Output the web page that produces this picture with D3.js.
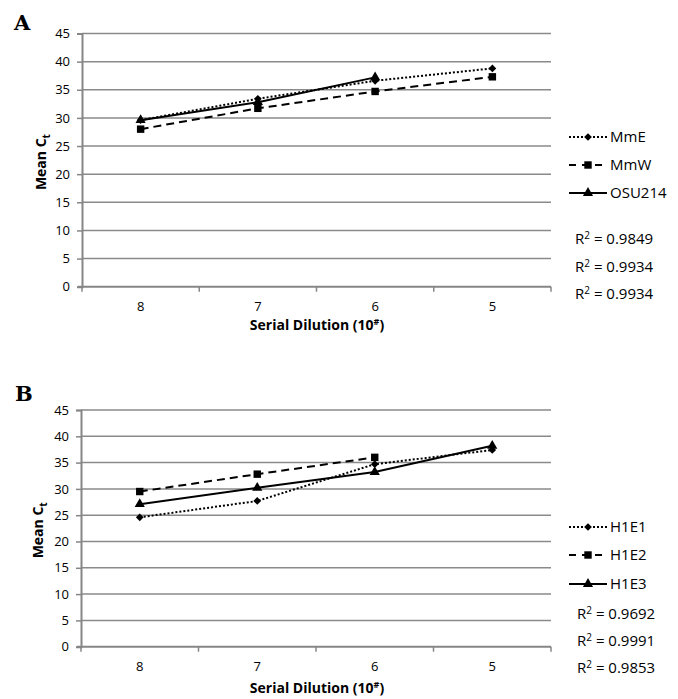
<!DOCTYPE html>
<html>
<head>
<meta charset="utf-8">
<script src="https://cdn.jsdelivr.net/npm/d3@7"></script>
<style>
  body { margin: 0; background: #fff; }
  text { font-family: "Open Sans", sans-serif; fill: #000; }
</style>
</head>
<body>
<svg id="chart" width="678" height="699"></svg>
<script>
// values
var dilutions = ["8", "7", "6", "5"]
var yTicks = [0, 5, 10, 15, 20, 25, 30, 35, 40, 45]

var mmE    = [29.6, 33.4, 36.6, 38.8]
var mmW    = [28.0, 31.7, 34.7, 37.3]
var osu214 = [29.6, 32.8, 37.2, null]

var h1e1 = [24.6, 27.7, 34.7, 37.4]
var h1e2 = [29.5, 32.8, 36.0, null]
var h1e3 = [27.1, 30.2, 33.2, 38.2]

var namesA = ["MmE", "MmW", "OSU214"]
var namesB = ["H1E1", "H1E2", "H1E3"]
var r2A = ["0.9849", "0.9934", "0.9934"]
var r2B = ["0.9692", "0.9991", "0.9853"]

var svg = d3.select("#chart")

// diamond = square turned 45deg
var styles = [
    {dash: "2,2", sym: d3.symbolSquare, size: 30, rot: 45},
    {dash: "8,5", sym: d3.symbolSquare, size: 55, rot: 0},
    {dash: null, sym: d3.symbolTriangle, size: 45, rot: 0}
]

function marker(sel, i) {
    sel.attr("d", d3.symbol().type(styles[i].sym).size(styles[i].size))
        .style("fill", "#000")
}

function drawPanel(p) {
    var g = svg.append("g")

    var x = d3.scaleBand().domain(dilutions).range([p.left, p.right])
    var y = d3.scaleLinear().domain([0, 45]).range([p.bottom, p.top])
    var cx = d => x(d) + x.bandwidth() / 2

    // gridlines
    g.append("g").selectAll("line")
        .data(yTicks.filter(t => t > 0))
        .enter().append("line")
        .attr("x1", p.left).attr("x2", p.right)
        .attr("y1", d => y(d)).attr("y2", d => y(d))
        .style("stroke", "#8a8a8a").style("stroke-width", 1.5)

    // y axis
    var ya = g.append("g").attr("transform", "translate(" + p.left + ",0)")
        .call(d3.axisLeft(y).tickValues(yTicks).tickSize(5).tickPadding(7))
    ya.select(".domain").style("stroke", "#868686").style("stroke-width", 2)
    ya.selectAll(".tick line").style("stroke", "#868686").style("stroke-width", 1.5)
    ya.selectAll("text").style("font-size", "13px").style("font-family", "'Open Sans', sans-serif")

    // x axis: ticks at band edges
    g.append("line")
        .attr("x1", p.left - 4).attr("x2", p.right)
        .attr("y1", y(0)).attr("y2", y(0))
        .style("stroke", "#868686").style("stroke-width", 2)
    var edges = dilutions.map(d => x(d)).concat([p.right])
    g.append("g").selectAll("line")
        .data(edges).enter().append("line")
        .attr("x1", d => d).attr("x2", d => d)
        .attr("y1", y(0)).attr("y2", y(0) + 5)
        .style("stroke", "#868686").style("stroke-width", 1.5)
    g.append("g").selectAll("text")
        .data(dilutions).enter().append("text")
        .attr("x", cx).attr("y", y(0) + 24)
        .style("text-anchor", "middle").style("font-size", "13px")
        .text(d => d)

    // series
    p.series.forEach((vals, i) => {
        var pts = vals.map((v, j) => ({c: dilutions[j], v: v})).filter(d => d.v != null)
        var line = d3.line().x(d => cx(d.c)).y(d => y(d.v))
        g.append("path").datum(pts)
            .attr("d", line)
            .style("fill", "none").style("stroke", "#000").style("stroke-width", 2)
            .style("stroke-dasharray", styles[i].dash)
        g.append("g").selectAll("path")
            .data(pts).enter().append("path")
            .attr("transform", d => "translate(" + cx(d.c) + "," + y(d.v) + ") rotate(" + styles[i].rot + ")")
            .call(marker, i)
    })

    // legend
    p.names.forEach((n, i) => {
        var ly = p.legendY[i]
        g.append("line")
            .attr("x1", 569).attr("x2", 607).attr("y1", ly).attr("y2", ly)
            .style("stroke", "#000").style("stroke-width", 2)
            .style("stroke-dasharray", i == 1 ? "7,6" : styles[i].dash)
        g.append("path")
            .attr("transform", "translate(588," + ly + ") rotate(" + styles[i].rot + ")")
            .call(marker, i)
        g.append("text")
            .attr("x", 610).attr("y", ly + 5)
            .style("font-size", "15px")
            .text(n)
    })

    p.r2.forEach((r, i) => {
        var t = g.append("text")
            .attr("x", p.r2X).attr("y", p.r2Y[i] + 5)
            .style("font-size", "15px")
        t.append("tspan").text("R")
        t.append("tspan").attr("dy", -5).style("font-size", "10px").text("2")
        t.append("tspan").attr("dy", 5).text(" = " + r)
    })

    // axis titles
    var yt = g.append("text")
        .attr("transform", "translate(" + p.yTitleX + "," + ((p.top + p.bottom) / 2 + 2) + ") rotate(-90)")
        .style("text-anchor", "middle").style("font-size", "14px").style("font-weight", "bold")
    yt.append("tspan").text("Mean C")
    yt.append("tspan").attr("dy", 4).style("font-size", "10px").text("t")

    var xt = g.append("text")
        .attr("x", 317).attr("y", p.xTitleY)
        .style("text-anchor", "middle").style("font-size", "14px").style("font-weight", "bold")
    xt.append("tspan").text("Serial Dilution (10")
    xt.append("tspan").attr("dy", -5).style("font-size", "9px").text("#")
    xt.append("tspan").attr("dy", 5).text(")")

    g.append("text")
        .attr("x", p.labelX).attr("y", p.labelY)
        .style("font-family", "'DejaVu Serif', serif").style("font-weight", "bold")
        .style("font-size", "21px")
        .text(p.label)
}

drawPanel({
    label: "A", labelX: 14, labelY: 30,
    left: 82, right: 551, top: 33.5, bottom: 286.7,
    series: [mmE, mmW, osu214], names: namesA,
    legendY: [137, 165, 193], r2: r2A, r2X: 575, r2Y: [239, 267, 294],
    yTitleX: 46, xTitleY: 330
})

drawPanel({
    label: "B", labelX: 15, labelY: 401,
    left: 81, right: 551, top: 410, bottom: 646.7,
    series: [h1e1, h1e2, h1e3], names: namesB,
    legendY: [527, 555, 584], r2: r2B, r2X: 577, r2Y: [614, 641, 668],
    yTitleX: 43, xTitleY: 693
})
</script>
</body>
</html>
